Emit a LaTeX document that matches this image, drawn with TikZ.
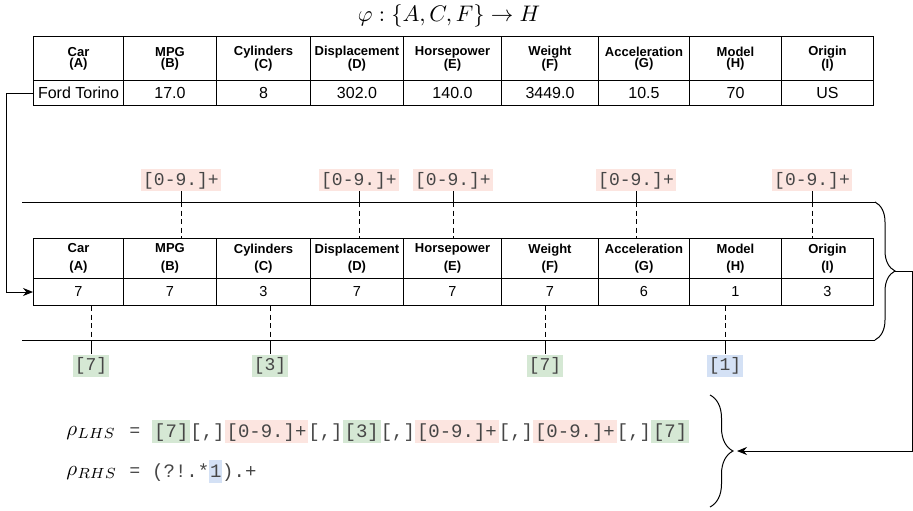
\documentclass[tikz,border=0pt]{standalone}
\usepackage{fontspec}
\setmainfont{Liberation Sans}
\newfontfamily\monof{Liberation Mono}
\usetikzlibrary{arrows.meta,decorations.pathreplacing}
\definecolor{hlred}{RGB}{252,229,224}
\definecolor{hlgreen}{RGB}{213,232,212}
\definecolor{hlblue}{RGB}{212,225,245}
\definecolor{codegray}{RGB}{70,70,70}
\newcommand{\hlbx}[3][2pt]{{\setlength{\fboxsep}{0pt}\colorbox{#2}{\rule[-6pt]{0pt}{23pt}\hspace{#1}#3\hspace{#1}}}}
\tikzset{
  cell/.style={draw, line width=1pt, inner sep=0pt, align=center, anchor=north west},
  hcellA/.style={cell, font=\fontsize{13}{11.3}\selectfont\bfseries},
  hcellB/.style={cell, font=\fontsize{13}{17.7}\selectfont\bfseries},
  dcellA/.style={cell, font=\fontsize{16}{16}\selectfont},
  dcellB/.style={cell, font=\fontsize{14.5}{14.5}\selectfont},
  rxlab/.style={font=\monof\fontsize{18}{18}\selectfont, text=codegray, inner xsep=2pt, inner ysep=0pt, text height=16pt, text depth=6pt},
  redlab/.style={rxlab, fill=hlred},
  greenlab/.style={rxlab, fill=hlgreen},
  bluelab/.style={rxlab, fill=hlblue},
  mathlab/.style={anchor=base west, inner sep=0pt, scale=2.1},
  conn/.style={line width=1pt},
  dconn/.style={line width=1pt, dash pattern=on 5pt off 3.5pt},
  arr/.style={line width=1pt, -{Stealth[length=10pt,width=8pt]}},
  brc/.style={line width=1pt, decorate, decoration={brace, amplitude=#1}},
}
\begin{document}
\begin{tikzpicture}[x=1pt,y=-1pt]
\useasboundingbox (0,0) rectangle (913,511);

\node[scale=2.25, inner sep=0pt] (phi) at (449,16) {$\varphi:\{A,C,F\}\to H$};

% tables
\foreach \i/\l/\w/\hd/\lt/\da/\db in {
  1/33/90/Car/A/Ford Torino/7,
  2/123/93/MPG/B/17.0/7,
  3/216/94/Cylinders/C/8/3,
  4/310/93/Displacement/D/302.0/7,
  5/403/98/Horsepower/E/140.0/7,
  6/501/97/Weight/F/3449.0/7,
  7/598/91/Acceleration/G/10.5/6,
  8/689/92/Model/H/70/1,
  9/781/92/Origin/I/US/3}{
  \node[hcellA, minimum width=\w pt, minimum height=44pt] (t1h\i) at (\l,36) {\hd\\(\lt)};
  \node[dcellA, minimum width=\w pt, minimum height=25pt] (t1d\i) at (\l,80) {\da};
  \node[hcellB, minimum width=\w pt, minimum height=40pt] (t2h\i) at (\l,238) {\hd\\(\lt)};
  \node[dcellB, minimum width=\w pt, minimum height=27pt] (t2d\i) at (\l,278) {\db};
}

% horizontal guide lines
\coordinate (tlL) at (22,202);
\coordinate (tlR) at (875,202);
\coordinate (blL) at (22,340);
\coordinate (blR) at (875,340);
\draw[conn] (tlL) -- (tlR);
\draw[conn] (blL) -- (blR);

% top labels
\node[redlab] (la2) at (181,180) {[0-9.]+};
\node[redlab] (la4) at (359,180) {[0-9.]+};
\node[redlab] (la5) at (453,180) {[0-9.]+};
\node[redlab] (la7) at (636,180) {[0-9.]+};
\node[redlab] (la9) at (812,180) {[0-9.]+};
\foreach \k in {2,4,5,7,9}{
  \draw[conn] (la\k.south) -- (la\k.south |- tlL);
  \draw[dconn] (la\k.south |- tlL) -- (la\k.south |- t2h\k.north);
}

% bottom labels
\node[greenlab] (lb1) at (91,365.5) {[7]};
\node[greenlab] (lb3) at (270,365.5) {[3]};
\node[greenlab] (lb6) at (545,365.5) {[7]};
\node[bluelab] (lb8) at (725,365.5) {[1]};
\foreach \k in {1,3,6,8}{
  \draw[dconn] (lb\k.north |- t2d\k.south) -- (lb\k.north |- blL);
  \draw[conn] (lb\k.north |- blL) -- (lb\k.north);
}

% left connector
\coordinate (lx) at (6,92);
\draw[arr] (t1d1.west) -- (t1d1.west -| lx) |- (t2d1.west);

% formulas
\node[mathlab] (rl) at (66,435) {$\rho_{LHS}$};
\node[anchor=base, inner sep=0pt, text=codegray] (eq1) at (135,436) {\fontsize{18}{18}\selectfont =};
\node[anchor=base west, inner sep=0pt, text=codegray, font=\monof\fontsize{19}{19}\selectfont] (lhs) at (152,437)
  {\hlbx{hlgreen}{[7]}[,]\hlbx{hlred}{[0-9.]+}[,]\hlbx{hlgreen}{[3]}[,]\hlbx{hlred}{[0-9.]+}[,]\hlbx{hlred}{[0-9.]+}[,]\hlbx{hlgreen}{[7]}};
\node[mathlab] (rr) at (66,475) {$\rho_{RHS}$};
\node[anchor=base, inner sep=0pt, text=codegray] (eq2) at (135,476) {\fontsize{18}{18}\selectfont =};
\node[anchor=base west, inner sep=0pt, text=codegray, font=\monof\fontsize{19}{19}\selectfont] (rhs) at (152,477)
  {(?!.*\hlbx[0.8pt]{hlblue}{1}).+};

% braces
\draw[brc=20pt] (tlR) -- (blR);
\coordinate (rbtip) at (895,271);
\coordinate (rx) at (912,271);
\coordinate (lbt) at (710,395);
\coordinate (lbb) at (710,507);
\draw[brc=23pt] (lbt) -- (lbb);
\coordinate (bbtip) at (737,451);
\draw[arr] (rbtip) -- (rx) |- (bbtip);
\end{tikzpicture}
\end{document}
